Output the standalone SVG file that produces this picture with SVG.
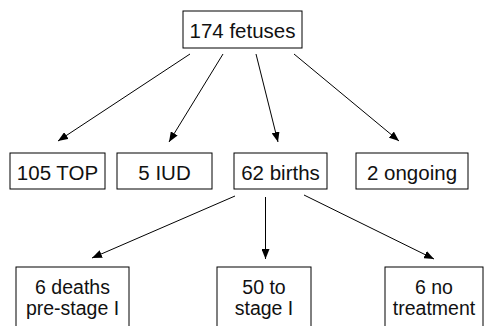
<svg xmlns="http://www.w3.org/2000/svg" width="484" height="326" viewBox="0 0 484 326">
<style>
.b{fill:#fff;stroke:#000;stroke-width:1}
text{font-family:"Liberation Sans",Arial,sans-serif;font-size:20.5px;fill:#111;text-anchor:middle}
.s{font-size:19.5px}
line{stroke:#000;stroke-width:1}
</style>
<defs>
<marker id="a" viewBox="0 0 10 8" refX="10" refY="4" markerWidth="10" markerHeight="8" markerUnits="userSpaceOnUse" orient="auto">
<path d="M0,0L10,4L0,8z" fill="#000"/>
</marker>
</defs>
<rect width="484" height="326" fill="#fff"/>
<g id="connectors">
<line x1="190" y1="54" x2="58" y2="141" marker-end="url(#a)"/>
<line x1="223" y1="54" x2="169" y2="142" marker-end="url(#a)"/>
<line x1="256" y1="54" x2="278" y2="142" marker-end="url(#a)"/>
<line x1="294" y1="54" x2="399" y2="141" marker-end="url(#a)"/>
<line x1="235" y1="196" x2="92" y2="258" marker-end="url(#a)"/>
<line x1="265.5" y1="197" x2="265.5" y2="259" marker-end="url(#a)"/>
<line x1="304" y1="195" x2="434" y2="259" marker-end="url(#a)"/>
</g>
<g id="n174"><rect class="b" x="183" y="11" width="119" height="37"/><text x="242.5" y="38">174 fetuses</text></g>
<g id="n105"><rect class="b" x="10" y="153" width="95" height="36"/><text x="57.5" y="180">105 TOP</text></g>
<g id="n5"><rect class="b" x="117" y="153" width="95" height="36"/><text x="164.5" y="180">5 IUD</text></g>
<g id="n62"><rect class="b" x="234" y="153" width="93" height="36"/><text x="280.5" y="180">62 births</text></g>
<g id="n2"><rect class="b" x="356" y="153" width="112" height="36"/><text x="412" y="180">2 ongoing</text></g>
<g id="d6"><rect class="b" x="16" y="267" width="113" height="70"/><text class="s" x="72.5" y="294">6 deaths</text><text class="s" x="72.5" y="315">pre-stage I</text></g>
<g id="s50"><rect class="b" x="217" y="267" width="94" height="70"/><text class="s" x="264" y="294">50 to</text><text class="s" x="264" y="315">stage I</text></g>
<g id="nt6"><rect class="b" x="385" y="267" width="98" height="70"/><text class="s" x="434" y="294">6 no</text><text class="s" x="434" y="315">treatment</text></g>
</svg>
